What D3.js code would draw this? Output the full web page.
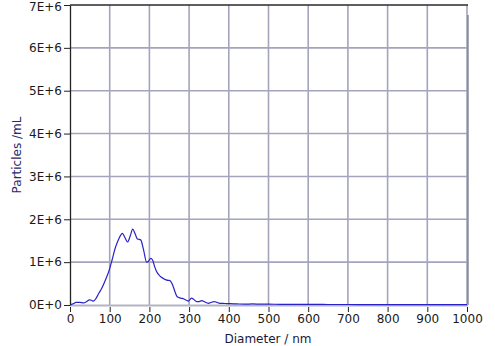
<!DOCTYPE html>
<html>
<head>
<meta charset="utf-8">
<script src="https://cdn.jsdelivr.net/npm/d3@7"></script>
<style>
  body { margin: 0; background: #fff; }
  svg { font-family: "DejaVu Sans", Verdana, sans-serif; }
</style>
</head>
<body>
<svg width="495" height="346"></svg>
<script>
// diameter (nm) and concentration (particles/mL)
var diameters = [2, 8, 15, 25, 34, 42, 49, 54, 59, 66, 73, 80, 90, 99, 106, 113, 120, 127, 132, 138, 145, 152, 158, 164, 170, 178, 185, 193, 198, 203, 208, 213, 218, 226, 235, 244, 252, 258, 264, 270, 279, 287, 293, 298, 306, 312, 319, 325, 332, 340, 348, 356, 363, 370, 378, 390, 403, 420, 440, 460, 480, 500, 530, 560, 600, 650, 700, 750, 800, 850, 900, 950, 1000];
var concentrations = [0.01e6, 0.03e6, 0.06e6, 0.06e6, 0.05e6, 0.08e6, 0.12e6, 0.11e6, 0.09e6, 0.16e6, 0.28e6, 0.39e6, 0.60e6, 0.82e6, 1.05e6, 1.30e6, 1.48e6, 1.62e6, 1.67e6, 1.58e6, 1.47e6, 1.62e6, 1.77e6, 1.66e6, 1.54e6, 1.52e6, 1.30e6, 1.00e6, 1.02e6, 1.09e6, 1.05e6, 0.90e6, 0.78e6, 0.68e6, 0.62e6, 0.58e6, 0.57e6, 0.48e6, 0.32e6, 0.19e6, 0.16e6, 0.14e6, 0.11e6, 0.09e6, 0.16e6, 0.13e6, 0.08e6, 0.08e6, 0.10e6, 0.07e6, 0.04e6, 0.06e6, 0.08e6, 0.06e6, 0.04e6, 0.035e6, 0.03e6, 0.025e6, 0.02e6, 0.025e6, 0.02e6, 0.02e6, 0.015e6, 0.015e6, 0.015e6, 0.012e6, 0.012e6, 0.01e6, 0.01e6, 0.01e6, 0.01e6, 0.01e6, 0.01e6];
var xTicks = [0, 100, 200, 300, 400, 500, 600, 700, 800, 900, 1000];
var yTicks = [0, 1e6, 2e6, 3e6, 4e6, 5e6, 6e6, 7e6];

var svg = d3.select('svg'),
  margin = {top: 5, right: 28, bottom: 41, left: 70},
  width = +svg.attr('width') - margin.left - margin.right,
  height = +svg.attr('height') - margin.top - margin.bottom;

var x = d3.scaleLinear().domain([0, 1000]).range([0, 397]),
    y = d3.scaleLinear().domain([0, 7e6]).range([300, 0]);

var g = svg.append('g')
    .attr('transform', 'translate(' + margin.left + ',' + margin.top + ')');

var gridColor = '#a4a4bc';

// grid
g.selectAll('.vgrid')
  .data(xTicks.slice(1))
  .enter().append('line')
  .attr('x1', function(d) { return x(d); })
  .attr('x2', function(d) { return x(d); })
  .attr('y1', 0).attr('y2', 300)
  .attr('stroke', gridColor).attr('stroke-width', 1.6);

g.selectAll('.hgrid')
  .data(yTicks.slice(1, -1))
  .enter().append('line')
  .attr('x1', 0).attr('x2', 397)
  .attr('y1', function(d) { return y(d); })
  .attr('y2', function(d) { return y(d); })
  .attr('stroke', gridColor).attr('stroke-width', 1.6);

// frame
g.append('line').attr('x1', 0).attr('x2', 398).attr('y1', 0).attr('y2', 0)
  .attr('stroke', '#2a2a2a').attr('stroke-width', 1.3);
g.append('line').attr('x1', 398).attr('x2', 398).attr('y1', 10).attr('y2', 300)
  .attr('stroke', '#707080').attr('stroke-width', 1.2);
g.append('line').attr('x1', 0).attr('x2', 398).attr('y1', 300.5).attr('y2', 300.5)
  .attr('stroke', '#b4b4c4').attr('stroke-width', 2);

// x axis
var xAxis = g.append('g')
  .attr('transform', 'translate(0,302)')
  .call(d3.axisBottom(x).tickValues(xTicks).tickSize(5).tickSizeOuter(0).tickPadding(2)
    .tickFormat(d3.format('d')));
xAxis.select('.domain').remove();
xAxis.selectAll('line').attr('stroke', '#222');
xAxis.selectAll('text').attr('font-size', 12).attr('fill', '#1a1a1a')
  .attr('font-family', '"DejaVu Sans", Verdana, sans-serif');

// y axis
var yAxis = g.append('g')
  .call(d3.axisLeft(y).tickValues(yTicks).tickSize(6).tickSizeOuter(0).tickPadding(2)
    .tickFormat(function(d) { return (d / 1e6) + 'E+' + (d === 0 ? 0 : 6); }));
yAxis.select('.domain').attr('stroke', '#222').attr('stroke-width', 1.3);
yAxis.selectAll('line').attr('stroke', '#222');
yAxis.selectAll('text').attr('font-size', 12).attr('fill', '#1a1a1a')
  .attr('font-family', '"DejaVu Sans", Verdana, sans-serif')
  .attr('dy', function(d) { return d === 7e6 ? '0.42em' : '0.32em'; });

// data line
var line = d3.line()
  .x(function(d, i) { return x(diameters[i]); })
  .y(function(d) { return y(d); })
  .curve(d3.curveMonotoneX);

g.append('path')
  .datum(concentrations)
  .attr('fill', 'none')
  .attr('stroke', '#2a22c8')
  .attr('stroke-width', 1.2)
  .attr('d', line);

// axis titles
svg.append('text')
  .attr('transform', 'translate(21,155) rotate(-90)')
  .attr('text-anchor', 'middle')
  .attr('font-size', 12)
  .attr('fill', '#2a2a6a')
  .text('Particles /mL');

svg.append('text')
  .attr('x', 268).attr('y', 343)
  .attr('text-anchor', 'middle')
  .attr('font-size', 12)
  .attr('fill', '#1a1a3a')
  .text('Diameter / nm');
</script>
</body>
</html>
